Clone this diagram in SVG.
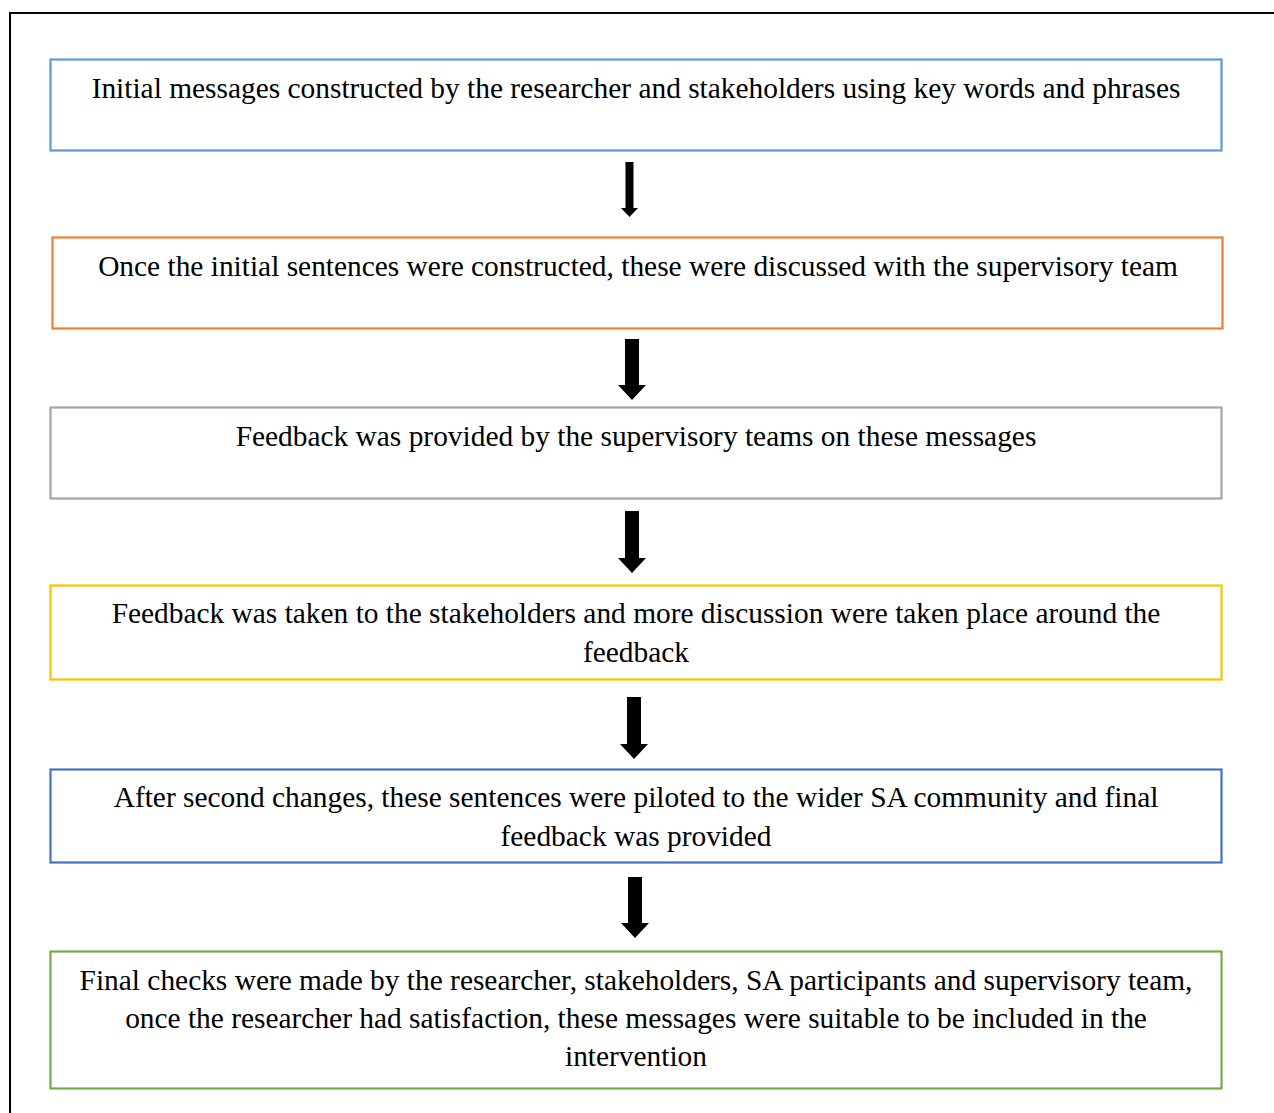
<svg xmlns="http://www.w3.org/2000/svg" width="1274" height="1113" viewBox="0 0 1274 1113">
  <style>
    .box { fill: #ffffff; stroke-width: 2.2; }
    .t { font-family: "Liberation Serif", "Times New Roman", serif; font-size: 29.4px; fill: #000000; text-anchor: middle; }
    .arrow { fill: #000000; }
  </style>
  <rect x="0" y="0" width="1274" height="1113" fill="#ffffff"/>
  <!-- outer frame -->
  <rect x="10" y="13" width="1290" height="1120" fill="none" stroke="#000000" stroke-width="2"/>

  <g id="step1">
    <rect class="box" x="50.5" y="59.5" width="1171" height="91" stroke="#5B9BD5"/>
    <text class="t" x="636" y="98">Initial messages constructed by the researcher and stakeholders using key words and phrases</text>
  </g>
  <g id="step2">
    <rect class="box" x="52.5" y="237.5" width="1170" height="91" stroke="#ED7D31"/>
    <text class="t" x="638" y="276">Once the initial sentences were constructed, these were discussed with the supervisory team</text>
  </g>
  <g id="step3">
    <rect class="box" x="50.5" y="407.5" width="1171" height="91" stroke="#A5A5A5"/>
    <text class="t" x="636" y="446">Feedback was provided by the supervisory teams on these messages</text>
  </g>
  <g id="step4">
    <rect class="box" x="50.5" y="585.5" width="1171" height="94" stroke="#FFC000"/>
    <text class="t" x="636" y="623">Feedback was taken to the stakeholders and more discussion were taken place around the</text>
    <text class="t" x="636" y="662">feedback</text>
  </g>
  <g id="step5">
    <rect class="box" x="50.5" y="769.5" width="1171" height="93" stroke="#4472C4"/>
    <text class="t" x="636" y="807">After second changes, these sentences were piloted to the wider SA community and final</text>
    <text class="t" x="636" y="846">feedback was provided</text>
  </g>
  <g id="step6">
    <rect class="box" x="50.5" y="951.5" width="1171" height="137" stroke="#70AD47"/>
    <text class="t" x="636" y="990">Final checks were made by the researcher, stakeholders, SA participants and supervisory team,</text>
    <text class="t" x="636" y="1028">once the researcher had satisfaction, these messages were suitable to be included in the</text>
    <text class="t" x="636" y="1066">intervention</text>
  </g>

  <g id="connectors">
    <polygon class="arrow" points="625.5,162 633.5,162 633.5,208 638,208 629.5,217 621,208 625.5,208"/>
    <polygon class="arrow" points="625,339 639,339 639,385 646,385 632,400 618,385 625,385"/>
    <polygon class="arrow" points="625,511 639,511 639,558 646,558 632,573 618,558 625,558"/>
    <polygon class="arrow" points="627,697 641,697 641,744 648,744 634,759 620,744 627,744"/>
    <polygon class="arrow" points="628,877 642,877 642,923 649,923 635,938 621,923 628,923"/>
  </g>
</svg>
